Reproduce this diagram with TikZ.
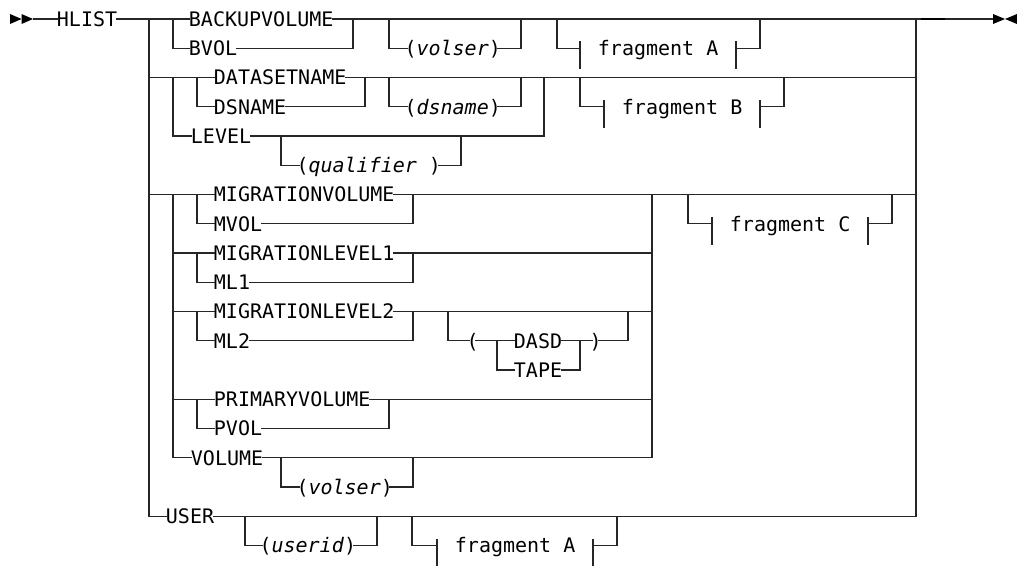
\documentclass[tikz,border=0pt]{standalone}
\usepackage{fontspec}
\setmainfont{DejaVu Sans Mono}
\begin{document}
\begin{tikzpicture}[x=0.75pt,y=-0.75pt]
\tikzset{
  rail/.style={draw=black!85, line width=0.8pt},
  lbl/.style={anchor=west, inner ysep=0pt, inner xsep=-1pt, text height=10.9pt, text depth=0pt, font=\fontsize{15}{18}\selectfont, text=black},
  par/.style={lbl, inner xsep=-2.8pt},
  tip/.style={fill=black}
}
\useasboundingbox (0,0) rectangle (1017,565);

% ---- text nodes ----
\node[lbl] (hlist) at (58,19) {HLIST};
\node[lbl] (bkv) at (190,19) {BACKUPVOLUME};
\node[lbl] (bvol) at (190,48.25) {BVOL};
\node[par] (vs1) at (408,48.25) {(\textit{volser})};
\node[lbl] (fa1) at (599,48.25) {fragment A};
\node[lbl] (dsn) at (215,77.5) {DATASETNAME};
\node[lbl] (dsname) at (215,106.75) {DSNAME};
\node[par] (dsp) at (408,106.75) {(\textit{dsname})};
\node[lbl] (fb) at (623,106.75) {fragment B};
\node[lbl] (level) at (192,136) {LEVEL};
\node[par] (qual) at (300,165.25) {(\textit{qualifier} )};
\node[lbl] (migv) at (215,194.5) {MIGRATIONVOLUME};
\node[lbl] (mvol) at (215,223.75) {MVOL};
\node[lbl] (fc) at (731,223.75) {fragment C};
\node[lbl] (migla) at (215,253) {MIGRATIONLEVEL1};
\node[lbl] (mla) at (215,282.25) {ML1};
\node[lbl] (miglb) at (215,311.5) {MIGRATIONLEVEL2};
\node[lbl] (mlb) at (215,340.75) {ML2};
\node[par] (lp) at (470,340.75) {(};
\node[lbl] (dasd) at (515,340.75) {DASD};
\node[par] (rp) at (593,340.75) {)};
\node[lbl] (tape) at (515,370) {TAPE};
\node[lbl] (primv) at (215,399.25) {PRIMARYVOLUME};
\node[lbl] (pvol) at (215,428.5) {PVOL};
\node[lbl] (volume) at (192,457.75) {VOLUME};
\node[par] (vs2) at (300,487) {(\textit{volser})};
\node[lbl] (user) at (167,516.25) {USER};
\node[par] (uid) at (263,545.5) {(\textit{userid})};
\node[lbl] (fa2) at (456,545.5) {fragment A};

\coordinate (start) at (33,19);
\coordinate (endpt) at (993,19);

% ---- start / end marks ----
\fill[tip] (10,14) -- (21.5,19) -- (10,24) -- cycle;
\fill[tip] (21.5,14) -- (33,19) -- (21.5,24) -- cycle;
\fill[tip] (993,14) -- (1005,19) -- (993,24) -- cycle;
\fill[tip] (1017,14) -- (1005,19) -- (1017,24) -- cycle;

% ---- main line ----
\draw[rail] (start) -- (hlist.west);
\draw[rail] (hlist.east) -- (bkv.west);
\draw[rail] (bkv.east) -- (endpt);
\draw[line width=1.7pt, black] (921,19) -- (945,19);

% main vertical and right vertical
\draw[rail] (149,19) -- (149,516.25) -- (user.west);
\draw[rail] (user.east) -- (916,516.25) -- (916,19);

% BACKUPVOLUME / BVOL
\draw[rail] (173,19) -- (173,48.25) -- (bvol.west);
\draw[rail] (bvol.east) -- (353,48.25) -- (353,19);
\draw[rail] (389,19) -- (389,48.25) -- (vs1.west);
\draw[rail] (vs1.east) -- (521,48.25) -- (521,19);
% fragment A (top)
\draw[rail] (557,19) -- (557,48.25) -- (580,48.25);
\draw[rail] (580,41.25) -- (580,69.25);
\draw[rail] (736,41.25) -- (736,69.25);
\draw[rail] (736,48.25) -- (760,48.25) -- (760,19);

% DATASETNAME group
\draw[rail] (149,77.5) -- (dsn.west);
\draw[rail] (dsn.east) -- (916,77.5);
\draw[rail] (173,77.5) -- (173,136) -- (level.west);
\draw[rail] (197,77.5) -- (197,106.75) -- (dsname.west);
\draw[rail] (dsname.east) -- (365,106.75) -- (365,77.5);
\draw[rail] (389,77.5) -- (389,106.75) -- (dsp.west);
\draw[rail] (dsp.east) -- (521,106.75) -- (521,77.5);
\draw[rail] (level.east) -- (544,136) -- (544,77.5);
\draw[rail] (281,136) -- (281,165.25) -- (qual.west);
\draw[rail] (qual.east) -- (461,165.25) -- (461,136);
% fragment B
\draw[rail] (580,77.5) -- (580,106.75) -- (604,106.75);
\draw[rail] (604,99.75) -- (604,127.75);
\draw[rail] (760,99.75) -- (760,127.75);
\draw[rail] (760,106.75) -- (784,106.75) -- (784,77.5);

% MIGRATION group
\draw[rail] (149,194.5) -- (migv.west);
\draw[rail] (migv.east) -- (916,194.5);
\draw[rail] (173,194.5) -- (173,457.75) -- (volume.west);
\draw[rail] (197,194.5) -- (197,223.75) -- (mvol.west);
\draw[rail] (mvol.east) -- (413,223.75) -- (413,194.5);
% fragment C
\draw[rail] (688,194.5) -- (688,223.75) -- (712,223.75);
\draw[rail] (712,216.75) -- (712,244.75);
\draw[rail] (868,216.75) -- (868,244.75);
\draw[rail] (868,223.75) -- (892,223.75) -- (892,194.5);

\draw[rail] (173,253) -- (migla.west);
\draw[rail] (migla.east) -- (652,253);
\draw[rail] (197,253) -- (197,282.25) -- (mla.west);
\draw[rail] (mla.east) -- (413,282.25) -- (413,253);

\draw[rail] (173,311.5) -- (miglb.west);
\draw[rail] (miglb.east) -- (652,311.5);
\draw[rail] (197,311.5) -- (197,340.75) -- (mlb.west);
\draw[rail] (mlb.east) -- (413,340.75) -- (413,311.5);
\draw[rail] (448,311.5) -- (448,340.75) -- (lp.west);
\draw[rail] (lp.east) -- (dasd.west);
\draw[rail] (497,340.75) -- (497,370) -- (tape.west);
\draw[rail] (tape.east) -- (580,370) -- (580,340.75);
\draw[rail] (dasd.east) -- (rp.west);
\draw[rail] (rp.east) -- (628,340.75) -- (628,311.5);

\draw[rail] (173,399.25) -- (primv.west);
\draw[rail] (primv.east) -- (652,399.25);
\draw[rail] (197,399.25) -- (197,428.5) -- (pvol.west);
\draw[rail] (pvol.east) -- (389,428.5) -- (389,399.25);

\draw[rail] (volume.east) -- (652,457.75) -- (652,194.5);
\draw[rail] (281,457.75) -- (281,487) -- (vs2.west);
\draw[rail] (vs2.east) -- (413,487) -- (413,457.75);

% USER
\draw[rail] (245,516.25) -- (245,545.5) -- (uid.west);
\draw[rail] (uid.east) -- (377,545.5) -- (377,516.25);
% fragment A (bottom)
\draw[rail] (412,516.25) -- (412,545.5) -- (437,545.5);
\draw[rail] (437,538.5) -- (437,566.5);
\draw[rail] (593,538.5) -- (593,566.5);
\draw[rail] (593,545.5) -- (617,545.5) -- (617,516.25);
\end{tikzpicture}
\end{document}
